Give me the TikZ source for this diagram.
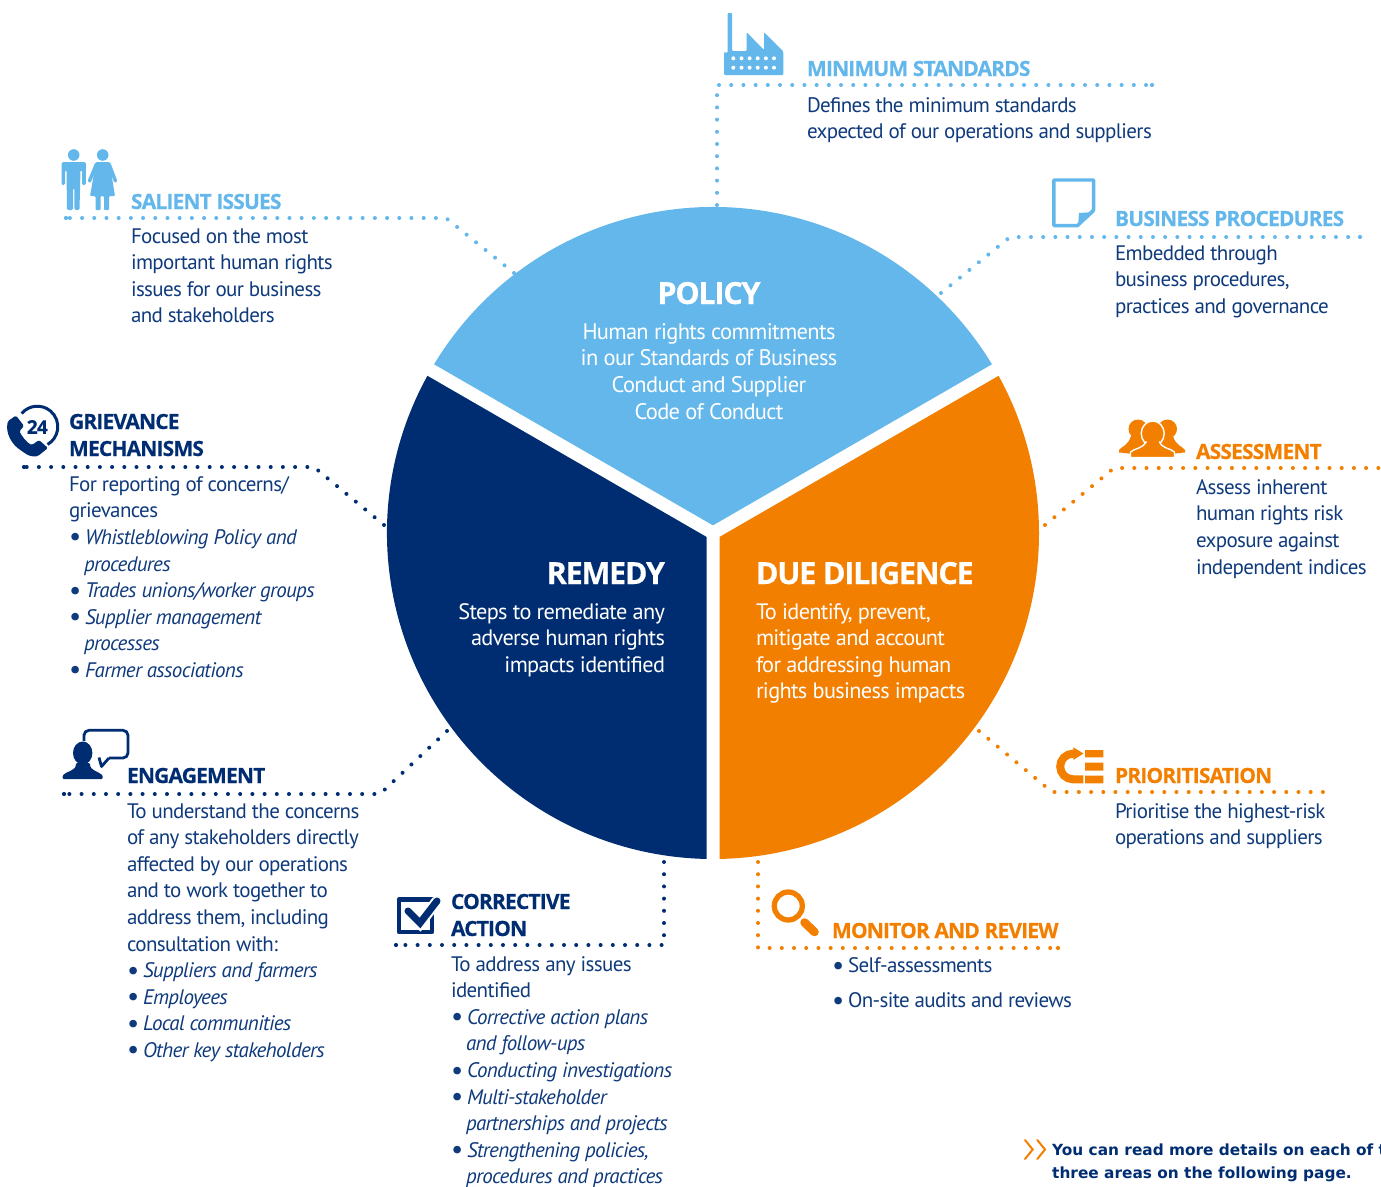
\documentclass[tikz,border=0pt]{standalone}
\usepackage{fontspec}
\setmainfont{PT Sans}[LetterSpace=-3]
\newfontfamily\notefont{DejaVu Sans}
\newfontfamily\headfont{Open Sans}[LetterSpace=-4,BoldFeatures={FakeBold=0.4}]
\definecolor{sky}{HTML}{63B7EA}
\definecolor{navy}{HTML}{002D72}
\definecolor{bodyink}{HTML}{0F3A7C}
\definecolor{amber}{HTML}{F37F00}
\newcommand\bul{\makebox[16pt][l]{\raisebox{-1.5pt}{\fontsize{27}{27}\selectfont\textbullet}}}
\newcommand\itm[1]{\bul\textit{#1}}
\newcommand\itmb[1]{\hspace*{15pt}\textit{#1}}
\tikzset{
  x=1pt,y=-1pt,
  body/.style={anchor=north west,inner sep=0pt,outer sep=0pt,align=left,text=bodyink,yshift=14.7pt,
     font=\fontsize{21}{26.6}\selectfont,execute at begin node=\strut},
  centertext/.style={body,anchor=north,align=center,text=white,font=\fontsize{22.5}{26.6}\selectfont},
  righttext/.style={body,anchor=north east,align=right,text=white,font=\fontsize{22.3}{26.6}\selectfont},
  lefttext/.style={body,text=white,font=\fontsize{22.3}{26.6}\selectfont},
  heading/.style={anchor=base west,inner sep=0pt,outer sep=0pt,align=left,font=\fontsize{21}{27}\headfont\bfseries},
  bighead/.style={inner sep=0pt,outer sep=0pt,text=white,font=\fontsize{30.5}{36}\headfont\bfseries},
  notetext/.style={anchor=base west,inner sep=0pt,align=left,text=navy,font=\fontsize{15.35}{23}\notefont\bfseries},
  dots/.style={dash pattern=on 0pt off 12.2pt,line cap=round,line width=4pt},
}
\newcommand\tipdot[2]{\fill[#1] (#2) circle[radius=2.1];}
\begin{document}
\begin{tikzpicture}
\useasboundingbox (0,0) rectangle (1381,1186);
\coordinate (C) at (713,533);
% wheel
\fill[sky] (C) -- +(150:326pt) arc[start angle=150,end angle=30,radius=326pt] -- cycle;
\fill[navy] (C) -- +(150:326pt) arc[start angle=150,end angle=270,radius=326pt] -- cycle;
\fill[amber] (C) -- +(270:326pt) arc[start angle=270,end angle=390,radius=326pt] -- cycle;
\draw[white,line width=13pt] (C) -- +(150:345pt) (C) -- +(30:345pt) (C) -- +(270:345pt);
% centre text
\node[bighead,anchor=base] (policy) at (709,304) {POLICY};
\node[centertext] (policytext) at (709,338) {Human rights commitments\\in our Standards of Business\\Conduct and Supplier\\Code of Conduct};
\node[bighead,anchor=base east] (remedy) at (665,584) {REMEDY};
\node[righttext] (remedytext) at (665,618) {Steps to remediate any\\adverse human rights\\impacts identified};
\node[bighead,anchor=base west] (dd) at (756,584) {DUE DILIGENCE};
\node[lefttext] (ddtext) at (756,618) {To identify, prevent,\\mitigate and account\\for addressing human\\rights business impacts};
% connectors
\coordinate (ms1) at (717,205); \coordinate (ms2) at (717,85); \coordinate (ms3) at (1152,85);
\coordinate (si1) at (514,273); \coordinate (si2) at (446,218); \coordinate (si3) at (66,218);
\coordinate (bp1) at (941,293); \coordinate (bp2) at (1010,237); \coordinate (bp3) at (1360,237);
\coordinate (gm1) at (384,525); \coordinate (gm2) at (314,467); \coordinate (gm3) at (24,467);
\coordinate (as1) at (1045,525); \coordinate (as2) at (1114,468); \coordinate (as3) at (1381,468);
\coordinate (en1) at (447,731); \coordinate (en2) at (380,794); \coordinate (en3) at (64,794);
\coordinate (pr1) at (979,731); \coordinate (pr2) at (1052,792); \coordinate (pr3) at (1323,792);
\coordinate (ca1) at (664,862); \coordinate (ca2) at (664,945); \coordinate (ca3) at (396,945);
\coordinate (mr1) at (758,862); \coordinate (mr2) at (758,948); \coordinate (mr3) at (1058,948);
\draw[dots,sky] (ms1) -- (ms2) -- (ms3);
\draw[dots,sky] (si1) -- (si2) -- (si3);
\draw[dots,sky] (bp1) -- (bp2) -- (bp3);
\draw[dots,navy] (gm1) -- (gm2) -- (gm3);
\draw[dots,navy] (en1) -- (en2) -- (en3);
\draw[dots,navy] (ca1) -- (ca2) -- (ca3);
\draw[dots,amber] (as1) -- (as2) -- (as3);
\draw[dots,amber] (pr1) -- (pr2) -- (pr3);
\draw[dots,amber] (mr1) -- (mr2) -- (mr3);
\tipdot{sky}{si3}\tipdot{navy}{gm3}\tipdot{navy}{en3}\tipdot{navy}{ca3}
\tipdot{sky}{ms3}\tipdot{sky}{bp3}\tipdot{amber}{mr3}
% headings and texts
\node[heading,text=sky] (msh) at (807,76) {MINIMUM STANDARDS};
\node[body] (mst) at (807,112) {Defines the minimum standards\\expected of our operations and suppliers};
\node[heading,text=sky] (sih) at (131,209) {SALIENT ISSUES};
\node[body] (sit) at (131,243) {Focused on the most\\important human rights\\issues for our business\\and stakeholders};
\node[heading,text=sky] (bph) at (1115,226) {BUSINESS PROCEDURES};
\node[body] (bpt) at (1115,260) {Embedded through\\business procedures,\\practices and governance};
\node[heading,text=navy] (gmh) at (69,429) {GRIEVANCE};
\node[heading,text=navy] (gmh2) at (69,456) {MECHANISMS};
\node[body] (gmt) at (69,491) {For reporting of concerns/\\grievances\\\itm{Whistleblowing Policy and}\\\itmb{procedures}\\\itm{Trades unions/worker groups}\\\itm{Supplier management}\\\itmb{processes}\\\itm{Farmer associations}};
\node[heading,text=amber] (ash) at (1196,459) {ASSESSMENT};
\node[body] (ast) at (1196,494) {Assess inherent\\human rights risk\\exposure against\\independent indices};
\node[heading,text=navy] (enh) at (127,783) {ENGAGEMENT};
\node[body] (ent) at (127,818) {To understand the concerns\\of any stakeholders directly\\affected by our operations\\and to work together to\\address them, including\\consultation with:\\\itm{Suppliers and farmers}\\\itm{Employees}\\\itm{Local communities}\\\itm{Other key stakeholders}};
\node[heading,text=amber] (prh) at (1115,783) {PRIORITISATION};
\node[body] (prt) at (1115,818) {Prioritise the highest-risk\\operations and suppliers};
\node[heading,text=navy] (cah) at (451,909) {CORRECTIVE};
\node[heading,text=navy] (cah2) at (451,936) {ACTION};
\node[body] (cat) at (451,971) {To address any issues\\identified\\\itm{Corrective action plans}\\\itmb{and follow-ups}\\\itm{Conducting investigations}\\\itm{Multi-stakeholder}\\\itmb{partnerships and projects}\\\itm{Strengthening policies,}\\\itmb{procedures and practices}};
\node[heading,text=amber] (mrh) at (832,938) {MONITOR AND REVIEW};
\node[body] (mrt) at (832,969) {\bul Self-assessments};
\node[body] (mrt2) at (832,1004) {\bul On-site audits and reviews};
\node[notetext] (note1) at (1052,1155) {You can read more details on each of t};
\node[notetext] (note2) at (1052,1178) {three areas on the following page.};
\draw[amber,line width=2pt,line cap=round,line join=miter] (1025,1140) -- (1032.7,1149.5) -- (1025,1159) (1037.3,1140) -- (1045,1149.5) -- (1037.3,1159);
% icon: people
\fill[sky] (73.7,155) circle[radius=5.8] (102.7,155) circle[radius=5.8];
\fill[sky,rounded corners=1.5pt] (61.5,185) -- (61.5,162) -- (85.8,162) -- (85.8,185) -- (82,185) -- (82,170) -- (80.5,170) -- (79.5,210) -- (74.3,210) -- (74.3,188) -- (73,188) -- (73,210) -- (67,210) -- (66.5,170) -- (65,170) -- (65,185) -- cycle;
\fill[sky,rounded corners=1pt] (96,162) -- (109.5,162) -- (115,196) -- (109,196) -- (109,210) -- (104,210) -- (104,196) -- (100.5,196) -- (100.5,210) -- (95.5,210) -- (95.5,196) -- (90,196) -- cycle;
\draw[sky,line width=3.5pt,line cap=round] (96.5,164) -- (89.5,181) (109,164) -- (115.5,181);
% icon: factory
\fill[sky,rounded corners=1pt] (727.5,53) -- (727.5,13) -- (732,13) -- (732,51) -- (746.7,51) -- (746.7,32.3) -- (764,50) -- (764,32.3) -- (782,50) -- (783.3,52) -- (783.3,75) -- (724,75) -- (724,52) -- cycle;
\foreach \px in {733.3,741.5,749.6,757.7,765.9,774}\foreach \py in {58.3,67.7}\fill[white] (\px,\py) circle[radius=2];
% icon: note
\draw[sky,line width=3.4pt,line join=round,fill=white] (1053.8,180) -- (1093.6,180) -- (1093.6,210) -- (1077.5,225.6) -- (1053.8,225.6) -- cycle;
\fill[sky] (1079,213) -- (1094.5,212) -- (1078,227) -- cycle;
% icon: group
\fill[amber] (1138,429) circle[radius=9.5] (1167.5,429) circle[radius=9.5];
\fill[amber] (1119,452.5) -- (1119,450) .. controls (1122,446) and (1128,446) .. (1131,436) -- (1142,436) -- (1150,456) -- (1120,452.5) -- cycle;
\fill[amber] (1185,452.5) -- (1185,450) .. controls (1182,446) and (1176,446) .. (1173,436) -- (1162,436) -- (1154,456) -- (1184,452.5) -- cycle;
\filldraw[amber,draw=white,line width=1.4pt] (1152.7,433.5) ellipse[x radius=11.5,y radius=12.5];
\filldraw[amber,draw=white,line width=1.4pt] (1130.5,457.5) -- (1130.5,452) .. controls (1135,448) and (1142,449) .. (1146,442) -- (1159.5,442) .. controls (1163,449) and (1170,448) .. (1174.5,452) -- (1174.5,457.5) -- cycle;
\fill[amber] (1146.5,438) rectangle (1159,446);
% icon: 24 phone
\draw[navy,line width=3pt] (37.3,426.7) ++(140:20.5pt) arc[start angle=140,end angle=-60,radius=20.5pt];
\node[inner sep=0pt,text=navy,font=\fontsize{19}{20}\headfont\bfseries] (twentyfour) at (37.3,427) {24};
\fill[navy,rounded corners=1.5pt] (16,415.5) -- (8,421) .. controls (5,433) and (12,445) .. (22,451) .. controls (28,456) and (33,457) .. (38,456) -- (48,448) -- (39,440) -- (32,445) .. controls (27,443) and (21,435) .. (19.5,431) -- (24,426) -- cycle;
% icon: speech + person
\draw[navy,line width=2.8pt,line join=round,rounded corners=5pt] (84,741) -- (84,730.3) -- (128,730.3) -- (128,758) -- (109,758);
\draw[navy,line width=2.8pt,line join=round] (109,758) -- (101.5,766.5) -- (99,757.5);
\fill[navy] (82.7,753) ellipse[x radius=9.7,y radius=11.5];
\fill[navy,rounded corners=1pt] (62.7,779) -- (62.7,775.5) .. controls (67,771) and (76,771) .. (76,763) -- (90,763) .. controls (90,771) and (98,771) .. (102.7,775.5) -- (102.7,779) -- cycle;
% icon: check box
\draw[navy,line width=4.2pt,line join=round] (398.8,899.4) rectangle (432,932);
\draw[white,line width=11pt] (407,910) -- (420,923.3) -- (437,901);
\draw[navy,line width=7pt,line cap=round,line join=miter] (408,911) -- (420,923) -- (437,901);
% icon: prioritise
\draw[amber,line width=8pt] (1083.3,779.3) -- (1073,779.3) arc[start angle=270,end angle=90,radius=12.8pt] -- (1075,753.7);
\fill[amber] (1073.3,747.3) -- (1083.5,753.5) -- (1073.3,760) -- cycle;
\fill[amber] (1085,750) rectangle (1103.3,757.3) (1085,762.7) rectangle (1103.3,770.7) (1085,775.7) rectangle (1103.3,783.3);
% icon: magnifier
\draw[amber,line width=5.3pt] (788.3,906) circle[radius=14];
\draw[amber,line width=8.5pt,line cap=round] (804.5,922.5) -- (814.5,932);
\end{tikzpicture}
\end{document}
